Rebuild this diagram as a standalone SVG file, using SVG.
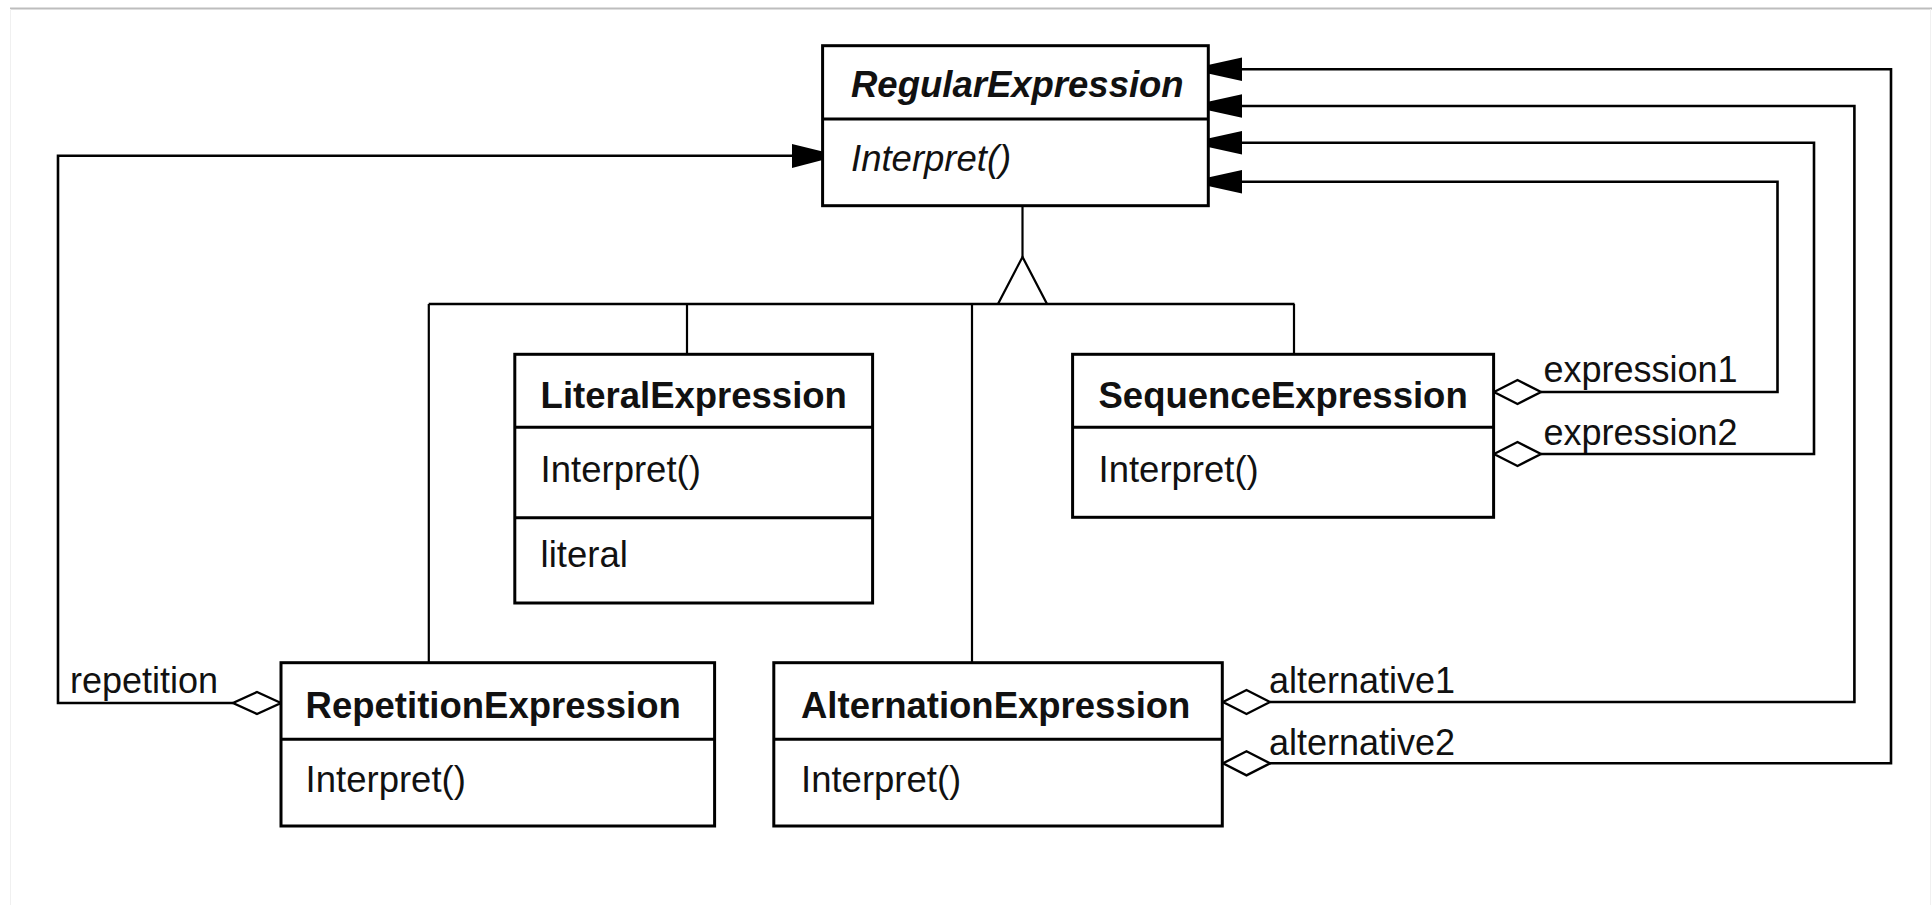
<svg xmlns="http://www.w3.org/2000/svg" width="1932" height="905" viewBox="0 0 1932 905">
<style>
.box{fill:#fff;stroke:#000;stroke-width:3}
.div{stroke:#000;stroke-width:3}
.con{fill:none;stroke:#000;stroke-width:2.6}
.gen{fill:none;stroke:#000;stroke-width:2.2}
.dia{fill:#fff;stroke:#000;stroke-width:2.4}
.arr{fill:#000;stroke:none}
text{font-family:"Liberation Sans",Arial,sans-serif;font-size:36.5px;fill:#111}
.cls{font-weight:bold}
.abs{font-weight:bold;font-style:italic}
.it{font-style:italic}
.lbl{font-size:36px}
</style>
<rect x="0" y="0" width="1932" height="905" fill="#fff"/>
<line x1="10" y1="8.5" x2="1932" y2="8.5" stroke="#bdbdbd" stroke-width="2"/>
<line x1="10.5" y1="9" x2="10.5" y2="905" stroke="#f0f0f0" stroke-width="1"/>
<line x1="1930.5" y1="9" x2="1930.5" y2="905" stroke="#f0f0f0" stroke-width="1"/>

<g id="connectors">
  <!-- generalization -->
  <line class="gen" x1="1022.5" y1="206" x2="1022.5" y2="257"/>
  <polygon class="gen" points="1022.5,257 998,304 1047,304"/>
  <line class="con" x1="428.7" y1="304" x2="1294.5" y2="304"/>
  <line class="gen" x1="428.8" y1="304" x2="428.8" y2="662.7"/>
  <line class="gen" x1="687" y1="304" x2="687" y2="354.3"/>
  <line class="gen" x1="972" y1="304" x2="972" y2="662.7"/>
  <line class="gen" x1="1294" y1="304" x2="1294" y2="354.3"/>

  <!-- repetition -->
  <polyline class="con" points="233,703 58,703 58,155.7 795,155.7"/>
  <polygon class="dia" points="281,703 257,692 233,703 257,714"/>
  <polygon class="arr" points="822.6,151.5 822.6,160 792,168 792,144"/>

  <!-- expression1 -->
  <polyline class="con" points="1541,392 1777.5,392 1777.5,181.7 1240,181.7"/>
  <polygon class="dia" points="1494,392 1517.5,380 1541,392 1517.5,404"/>
  <polygon class="arr" points="1208,177.5 1208,186 1242,193.5 1242,170"/>

  <!-- expression2 -->
  <polyline class="con" points="1541,454 1814,454 1814,142.7 1240,142.7"/>
  <polygon class="dia" points="1494,454 1517.5,442 1541,454 1517.5,466"/>
  <polygon class="arr" points="1208,138.5 1208,147 1242,154.5 1242,131"/>

  <!-- alternative1 -->
  <polyline class="con" points="1270,702 1854.4,702 1854.4,106 1240,106"/>
  <polygon class="dia" points="1223,702 1246.5,690 1270,702 1246.5,714"/>
  <polygon class="arr" points="1208,101.8 1208,110.3 1242,117.8 1242,94.3"/>

  <!-- alternative2 -->
  <polyline class="con" points="1270,763.3 1891,763.3 1891,69.3 1240,69.3"/>
  <polygon class="dia" points="1223,763.3 1246.5,751.3 1270,763.3 1246.5,775.3"/>
  <polygon class="arr" points="1208,65 1208,73.5 1242,81 1242,57.5"/>

  <text class="lbl" x="1543.5" y="381.7">expression1</text>
  <text class="lbl" x="1543.5" y="445">expression2</text>
  <text class="lbl" x="70" y="693">repetition</text>
  <text class="lbl" x="1269" y="693">alternative1</text>
  <text class="lbl" x="1269" y="755">alternative2</text>
</g>

<g id="RegularExpression">
  <rect class="box" x="822.6" y="45.7" width="385.7" height="160"/>
  <line class="div" x1="822.6" y1="119" x2="1208.3" y2="119"/>
  <text class="abs" x="851" y="97.3">RegularExpression</text>
  <text class="it" x="851" y="171">Interpret()</text>
</g>

<g id="LiteralExpression">
  <rect class="box" x="514.8" y="354.3" width="357.8" height="248.7"/>
  <line class="div" x1="514.8" y1="427.3" x2="872.6" y2="427.3"/>
  <line class="div" x1="514.8" y1="517.7" x2="872.6" y2="517.7"/>
  <text class="cls" x="540.6" y="408.3">LiteralExpression</text>
  <text x="540.6" y="481.7">Interpret()</text>
  <text x="540.6" y="566.7">literal</text>
</g>

<g id="SequenceExpression">
  <rect class="box" x="1072.6" y="354.3" width="421" height="163"/>
  <line class="div" x1="1072.6" y1="427.3" x2="1493.6" y2="427.3"/>
  <text class="cls" x="1098.5" y="408.3">SequenceExpression</text>
  <text x="1098.5" y="481.7">Interpret()</text>
</g>

<g id="RepetitionExpression">
  <rect class="box" x="281" y="662.7" width="433.6" height="163.3"/>
  <line class="div" x1="281" y1="739.3" x2="714.6" y2="739.3"/>
  <text class="cls" x="305.6" y="718">RepetitionExpression</text>
  <text x="305.6" y="791.7">Interpret()</text>
</g>

<g id="AlternationExpression">
  <rect class="box" x="773.8" y="662.7" width="448.5" height="163.3"/>
  <line class="div" x1="773.8" y1="739.3" x2="1222.3" y2="739.3"/>
  <text class="cls" x="801" y="718">AlternationExpression</text>
  <text x="801" y="791.7">Interpret()</text>
</g>
</svg>
